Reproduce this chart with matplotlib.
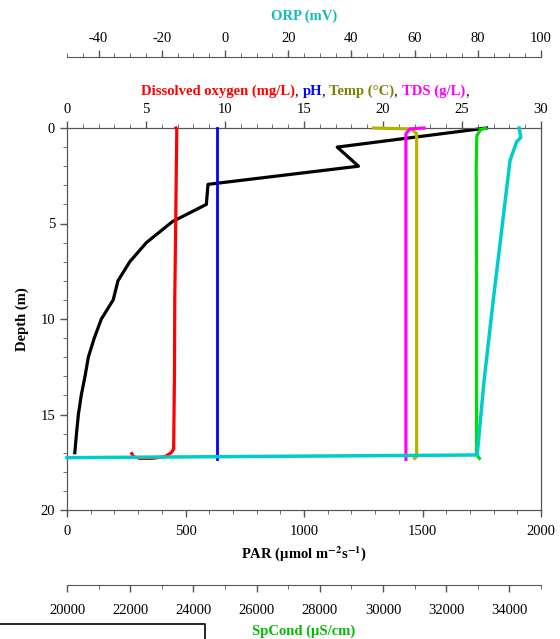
import matplotlib
matplotlib.use("Agg")
import matplotlib.pyplot as plt
from matplotlib.ticker import MultipleLocator
from matplotlib.offsetbox import TextArea, HPacker, AnnotationBbox
from matplotlib.lines import Line2D

plt.rcParams['font.family'] = ['Liberation Serif', 'DejaVu Serif']
plt.rcParams['mathtext.fontset'] = 'stix'
plt.rcParams['axes.unicode_minus'] = False

# ---------------- data ----------------
par_depth = [0, 1, 2, 2.95, 4, 4.9, 6, 7, 8, 9, 10, 11, 12, 13, 14, 15, 16, 17]
par_vals = [1770, 1140, 1230, 595, 588, 445, 335, 265, 215, 195, 145, 115, 90, 76, 60, 48, 40, 33]

do_depth = [0, 0.1, 2, 5, 9, 13, 16.8, 17.0, 17.2, 17.3, 17.3, 17.2, 17.05]
do_vals = [6.9, 6.95, 6.92, 6.88, 6.82, 6.8, 6.75, 6.6, 6.2, 5.4, 4.6, 4.2, 4.1]

ph_depth = [0, 17.35]
ph_vals = [9.47, 9.47]

temp_depth = [0, 0.05, 0.3, 17.2, 17.3]
temp_vals = [19.4, 21.8, 22.13, 22.13, 22.0]

tds_depth = [0, 0.05, 0.3, 17.35]
tds_vals = [22.6, 21.7, 21.45, 21.45]

sp_depth = [0, 0.1, 0.4, 2, 8, 17.1, 17.3]
sp_vals = [33250, 33080, 32970, 32950, 32960, 32960, 33050]

orp_depth = [0, 0.5, 0.72, 1.7, 9.0, 13.2, 17.12, 17.26]
orp_vals = [93.1, 93.6, 92.3, 90.2, 84.9, 82.0, 79.8, -50]

# ---------------- figure ----------------
W, H = 560, 639
fig = plt.figure(figsize=(W / 100, H / 100), dpi=100)
L, R, T, B = 67, 541, 128, 510
ax = fig.add_axes([L / W, 1 - B / H, (R - L) / W, (B - T) / H])

spine_c = '#555555'
tick_kw = dict(colors='black', labelsize=10.5, direction='out', width=1, color=spine_c)

# PAR axis (bottom) + depth (left)
ax.plot(par_vals, par_depth, color='black', lw=2.3, zorder=3, clip_on=False)
ax.set_xlim(0, 2000)
ax.set_ylim(20, 0)
ax.xaxis.set_major_locator(MultipleLocator(500))
ax.xaxis.set_minor_locator(MultipleLocator(100))
ax.yaxis.set_major_locator(MultipleLocator(5))
ax.yaxis.set_minor_locator(MultipleLocator(1))
ax.tick_params(axis='both', which='major', length=5, **tick_kw)
ax.tick_params(axis='both', which='minor', length=3, direction='out', color=spine_c)
ax.tick_params(axis='x', pad=6)
for s in ax.spines.values():
    s.set_color(spine_c)
ax.set_ylabel('Depth (m)', fontsize=10.5, fontweight='bold', labelpad=8)
ax.set_xlabel(r'PAR (µmol m$^{\mathbf{-2}}$s$^{\mathbf{-1}}$)', fontsize=10.5,
              fontweight='bold', labelpad=4)

# Top axis: DO, pH, Temp, TDS
ax2 = ax.twiny()
ax2.plot(temp_vals, temp_depth, color='#b4b400', lw=2.3, zorder=3, clip_on=False)
ax2.plot(tds_vals, tds_depth, color='#ff00ff', lw=2.3, zorder=4, clip_on=False)
ax2.plot(do_vals, do_depth, color='#ff0000', lw=2.3, zorder=4, clip_on=False)
ax2.plot(ph_vals, ph_depth, color='#0000ff', lw=2.0, zorder=4, clip_on=False)
ax2.set_xlim(0, 30)
ax2.xaxis.set_major_locator(MultipleLocator(5))
ax2.xaxis.set_minor_locator(MultipleLocator(1))
ax2.tick_params(axis='x', which='major', length=5, **tick_kw)
ax2.tick_params(axis='x', which='minor', length=3, direction='out', color=spine_c)
for s in ax2.spines.values():
    s.set_color(spine_c)

# ORP axis (top, offset)
ax3 = ax.twiny()
ax3.plot(orp_vals, orp_depth, color='#00cccc', lw=2.5, zorder=5, clip_on=False)
ax3.set_xlim(-50, 100)
ax3.spines['top'].set_position(('outward', 51.3))
for k in ['left', 'right', 'bottom']:
    ax3.spines[k].set_visible(False)
ax3.spines['top'].set_color(spine_c)
ax3.xaxis.set_major_locator(MultipleLocator(20))
ax3.xaxis.set_minor_locator(MultipleLocator(5))
ax3.tick_params(axis='x', which='major', length=5, **tick_kw)
ax3.tick_params(axis='x', which='minor', length=3, direction='out', color=spine_c)
ax3.set_xlabel('ORP (mV)', color='#11bbbb', fontsize=10.5, fontweight='bold', labelpad=9)

# SpCond axis (bottom, offset)
ax4 = ax.twiny()
ax4.plot(sp_vals, sp_depth, color='#00dd00', lw=2.3, zorder=4, clip_on=False)
ax4.set_xlim(20000, 35000)
ax4.xaxis.set_ticks_position('bottom')
ax4.xaxis.set_label_position('bottom')
ax4.spines['bottom'].set_position(('outward', 54))
for k in ['left', 'right', 'top']:
    ax4.spines[k].set_visible(False)
ax4.spines['bottom'].set_color(spine_c)
ax4.xaxis.set_major_locator(MultipleLocator(2000))
ax4.xaxis.set_minor_locator(MultipleLocator(1000))
ax4.tick_params(axis='x', which='major', length=5, pad=9, **tick_kw)
ax4.tick_params(axis='x', which='minor', length=3, direction='out', color=spine_c)
ax4.set_xlabel('SpCond (µS/cm)', color='#00bb00', fontsize=10.5, fontweight='bold', labelpad=5)

ax3.set_zorder(ax.get_zorder() + 3)
ax4.set_zorder(ax.get_zorder() + 2)
ax2.set_zorder(ax.get_zorder() + 1)
for a in (ax2, ax3, ax4):
    a.patch.set_visible(False)

# Multi-coloured top axis title
parts = [('Dissolved oxygen (mg/L)', '#ff0000', 'bold'), (', ', 'black', 'normal'),
         ('pH', '#0000ff', 'bold'), (', ', 'black', 'normal'),
         ('Temp (°C)', '#808000', 'bold'), (', ', 'black', 'normal'),
         ('TDS (g/L)', '#ff00ff', 'bold'), (',', 'black', 'normal')]
areas = [TextArea(t, textprops=dict(color=c, fontsize=10.5, fontweight=w,
                                    family=['Liberation Serif', 'DejaVu Serif']))
         for t, c, w in parts]
pack = HPacker(children=areas, align='baseline', pad=0, sep=0)
ab = AnnotationBbox(pack, (((142 + 468) / 2) / W, 1 - 91.5 / H), xycoords='figure fraction',
                    frameon=False, box_alignment=(0.5, 0.5))
fig.add_artist(ab)

# partial box at bottom-left
fig.add_artist(Line2D([0, 205 / W, 205 / W], [1 - 624 / H, 1 - 624 / H, 0], color='black',
                      lw=1.2, transform=fig.transFigure))

fig.savefig('out.png', dpi=100)
